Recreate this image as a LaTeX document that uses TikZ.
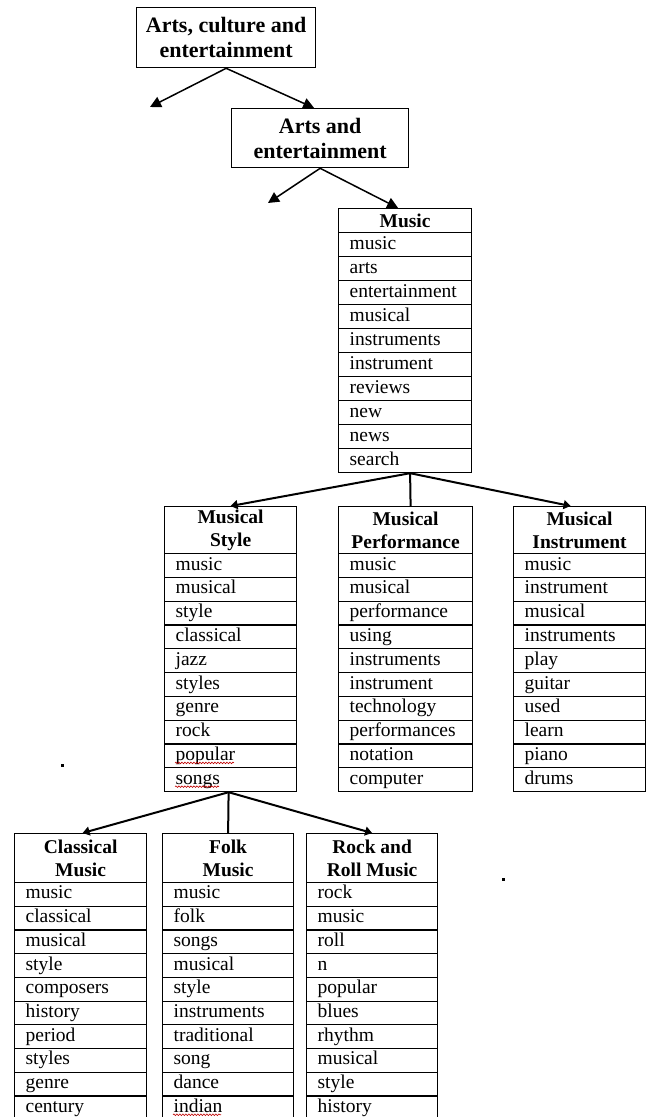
\documentclass[tikz,border=0pt]{standalone}
\usepackage{fontspec}
\setmainfont{Liberation Serif}
\usetikzlibrary{arrows.meta,calc,decorations.pathmorphing}
\tikzset{
  topbox/.style={draw, line width=1.3pt, inner sep=0pt, align=center,
    font=\bfseries\fontsize{22}{25}\selectfont},
  hdr/.style={draw, line width=1.2pt, inner sep=0pt, align=center,
    font=\bfseries\fontsize{19.5}{22.5}\selectfont},
  wordrow/.style={draw, line width=1.2pt, inner ysep=0pt, inner xsep=11pt, align=left,
    font=\fontsize{19.5}{22}\selectfont, text height=13pt, text depth=4pt},
  link/.style={line width=1.5pt},
  arr/.style={link, -{Triangle[length=11pt,width=11pt]}},
  thicklink/.style={line width=2pt},
  thickarr/.style={thicklink, -{Triangle[length=7pt,width=9pt]}},
  wave/.style={draw=red!75!black, line width=0.6pt, decorate,
    decoration={snake, amplitude=0.8pt, segment length=3pt}}
}
\newcommand\wordtable[8]{%
  \pgfmathsetmacro\tw{#4-22}%
  \node[hdr, minimum width=#4pt, minimum height=#5pt, anchor=north west] (#1) at (#2,#3) {#6};
  \foreach \w [count=\i] in {#7} {
    \node[wordrow, text width=\tw pt, minimum height=#8pt, anchor=north west]
      (#1-\i) at (#2,{#3+#5+(\i-1)*#8}) {\w};
  }%
}
\begin{document}
\begin{tikzpicture}[x=1pt,y=-1pt]
\useasboundingbox (0,0) rectangle (651,1117);
\clip (0,0) rectangle (651,1117);

% top boxes
\node[topbox, minimum width=179pt, minimum height=60pt, anchor=north west] (ace) at (136,7)
  {Arts, culture and\\entertainment};
\node[topbox, minimum width=177pt, minimum height=59pt, anchor=north west] (ae) at (231,108)
  {Arts and\\entertainment};

% Music table
\wordtable{music}{338}{208}{133}{24}{Music}
  {music,arts,entertainment,musical,instruments,instrument,reviews,new,news,search}{24}

% second level
\wordtable{style}{164}{506}{132}{47}{Musical\\Style}
  {music,musical,style,classical,jazz,styles,genre,rock,popular,songs}{23.8}
\wordtable{perf}{338}{506}{134}{47}{Musical\\Performance}
  {music,musical,performance,using,instruments,instrument,technology,performances,notation,computer}{23.8}
\wordtable{instr}{513}{506}{132}{47}{Musical\\Instrument}
  {music,instrument,musical,instruments,play,guitar,used,learn,piano,drums}{23.8}

% third level
\wordtable{classical}{14}{833}{132}{49}{Classical\\Music}
  {music,classical,musical,style,composers,history,period,styles,genre,century}{23.7}
\wordtable{folk}{162}{833}{131}{49}{Folk\\Music}
  {music,folk,songs,musical,style,instruments,traditional,song,dance,indian}{23.7}
\wordtable{rock}{306}{833}{131}{49}{Rock and\\Roll Music}
  {rock,music,roll,n,popular,blues,rhythm,musical,style,history}{23.7}

% free arrow ends
\coordinate (aceL) at (150,107);
\coordinate (aeL) at (268,203);

% connectors
\draw[arr] (ace.south) -- (aceL);
\draw[arr] (ace.south) -- ([xshift=-6pt]ae.north);
\draw[arr] (ae.south) -- (aeL);
\draw[arr] (ae.south) -- ([xshift=-7pt]music.north);

\draw[thickarr] ([xshift=5pt]music-10.south) -- (style.north);
\draw[thicklink] ([xshift=5pt]music-10.south) -- ([xshift=5pt]perf.north);
\draw[thickarr] ([xshift=5pt]music-10.south) -- ([xshift=-9pt]instr.north);

\draw[thickarr] ([xshift=-2pt]style-10.south) -- ([xshift=2pt]classical.north);
\draw[thicklink] ([xshift=-2pt]style-10.south) -- (folk.north);
\draw[thickarr] ([xshift=-2pt]style-10.south) -- (rock.north);

% spell-check underlines
\draw[wave] ($(style-9.west)+(11,7)$) -- ++(59,0);
\draw[wave] ($(style-10.west)+(11,7)$) -- ++(44,0);
\draw[wave] ($(folk-10.west)+(11,7)$) -- ++(48,0);

% stray dots
\fill (61,764) rectangle (64,767);
\fill (502,878) rectangle (505,881);
\end{tikzpicture}
\end{document}
